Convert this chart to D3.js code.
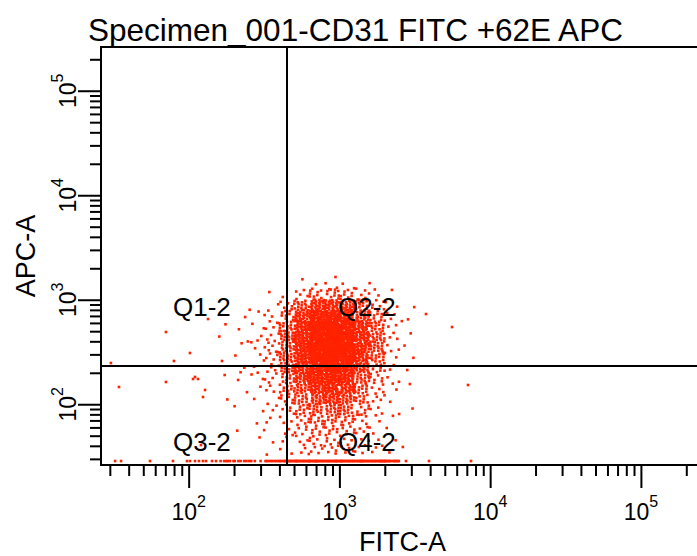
<!DOCTYPE html>
<html>
<head>
<meta charset="utf-8">
<script src="https://cdn.jsdelivr.net/npm/d3@7/dist/d3.min.js"></script>
<style>
  body { margin: 0; background: #fff; }
  svg { display: block; }
  text { font-family: "Liberation Sans", Arial, sans-serif; fill: #000; }
</style>
</head>
<body>
<div class="res"></div>
<script>
/**
 * DATA
 */
const title = 'Specimen_001-CD31 FITC +62E APC';
const xTitle = 'FITC-A';
const yTitle = 'APC-A';
// log display, 4 decades
const axisMin = 26.2144;
const axisMax = 262144;
const majorTicks = [100, 1000, 10000, 100000];
// quadrant gate
const gateFITC = 449;
const gateAPC = 232;
const quadNames = ['Q1-2', 'Q2-2', 'Q3-2', 'Q4-2'];

// event density: cells of 0.1 decade (log10 units)
const fitcEdges = [2.2, 2.3, 2.4, 2.5, 2.6, 2.7, 2.8, 2.9, 3.0, 3.1, 3.2, 3.3, 3.4, 3.5];
const apcEdges = [3.3, 3.2, 3.1, 3.0, 2.9, 2.8, 2.7, 2.6, 2.5, 2.4, 2.3, 2.2, 2.1, 2.0, 1.9, 1.8, 1.7, 1.6, 1.5];
const counts = [
    [0, 0, 0, 0, 0, 0, 0, 1, 0, 0, 0, 0, 0],
    [0, 0, 0, 0, 0, 1, 2, 3, 2, 1, 1, 0, 0],
    [0, 0, 0, 1, 1, 5, 9, 10, 8, 5, 2, 1, 0],
    [0, 0, 1, 1, 5, 16, 26, 28, 24, 14, 6, 2, 1],
    [0, 1, 1, 3, 9, 26, 42, 44, 36, 22, 9, 3, 1],
    [1, 1, 2, 4, 14, 34, 50, 52, 44, 30, 14, 3, 1],
    [1, 1, 2, 4, 16, 36, 54, 54, 48, 32, 16, 3, 1],
    [0, 1, 2, 5, 16, 36, 54, 54, 48, 32, 16, 3, 1],
    [1, 1, 2, 5, 16, 34, 50, 54, 48, 30, 14, 2, 1],
    [0, 2, 2, 5, 14, 30, 44, 48, 40, 24, 9, 2, 1],
    [1, 1, 2, 4, 12, 26, 38, 42, 36, 16, 7, 2, 0],
    [0, 1, 1, 3, 9, 19, 30, 34, 28, 14, 5, 2, 1],
    [1, 0, 1, 2, 7, 14, 21, 25, 20, 10, 4, 1, 0],
    [0, 1, 1, 2, 5, 10, 14, 16, 14, 8, 3, 1, 1],
    [0, 0, 1, 2, 3, 7, 10, 11, 9, 5, 2, 1, 0],
    [0, 1, 0, 1, 3, 5, 7, 8, 7, 4, 2, 1, 0],
    [0, 0, 1, 1, 2, 4, 6, 6, 5, 3, 2, 1, 0],
    [0, 0, 0, 1, 2, 3, 4, 5, 4, 3, 2, 1, 1]
];
// events piled up on the lower edge (APC off scale), per FITC cell
const pileCounts = [6, 5, 4, 8, 12, 14, 14, 14, 14, 14, 14, 12, 1];
const pileAPC = 28.6;
const pileFITC = [32.5, 35.6, 55.4, 78.7, 97.5, 102, 110.2, 117.1, 124.5, 130.3, 142.8, 151.9, 3929, 7464];
// sparse single events [FITC, APC]
const singles = [
    [30.5, 248.1], [34.5, 146.2], [70.7, 491], [79.9, 259.3], [102, 309.3],
    [70.7, 163.2], [106.9, 174.4], [110.2, 182.3], [115.3, 174.4], [128.4, 136.8],
    [124.5, 117.3], [120.7, 40.7], [134.4, 654], [3752, 730], [5583, 548], [7129, 152.8]
];

/**
 * SVG
 */
const W = 697, H = 556;
const plot = { left: 101, top: 47, right: 704, bottom: 465 };

const svg = d3.select('div.res')
    .append('svg')
    .attr('width', W)
    .attr('height', H);

const x = d3.scaleLog().domain([axisMin, axisMax]).range([plot.left, plot.right]);
const y = d3.scaleLog().domain([axisMin, axisMax]).range([plot.bottom, plot.top]);

// spread the events of each cell over the cell (low-discrepancy order)
const events = [];
counts.forEach((row, j) => {
    row.forEach((n, i) => {
        const seed = (j * 13 + i) * 29;
        for (let k = 0; k < n; k++) {
            const u = (0.5 + (k + seed) * 0.7548776662) % 1;
            const v = (0.5 + (k + seed) * 0.5698402910) % 1;
            const lx = fitcEdges[i] + u * (fitcEdges[i + 1] - fitcEdges[i]);
            const ly = apcEdges[j + 1] + v * (apcEdges[j] - apcEdges[j + 1]);
            events.push([Math.pow(10, lx), Math.pow(10, ly)]);
        }
    });
});
pileCounts.forEach((n, i) => {
    for (let k = 0; k < n; k++) {
        const u = (0.5 + (k + i * 7) * 0.6180339887) % 1;
        const lx = fitcEdges[i] + u * (fitcEdges[i + 1] - fitcEdges[i]);
        events.push([Math.pow(10, lx), pileAPC]);
    }
});
pileFITC.forEach(f => events.push([f, pileAPC]));
singles.forEach(d => events.push(d));

const dotSize = 2.6;
svg.append('g')
    .selectAll('rect')
    .data(events)
    .enter().append('rect')
    .attr('x', d => x(d[0]) - dotSize / 2)
    .attr('y', d => y(d[1]) - dotSize / 2)
    .attr('width', dotSize)
    .attr('height', dotSize)
    .attr('fill', '#ff2200');

// quadrant lines
svg.append('line')
    .attr('x1', Math.round(x(gateFITC))).attr('x2', Math.round(x(gateFITC)))
    .attr('y1', plot.top).attr('y2', plot.bottom)
    .attr('stroke', '#000').attr('stroke-width', 2);
svg.append('line')
    .attr('x1', plot.left).attr('x2', plot.right)
    .attr('y1', Math.round(y(gateAPC))).attr('y2', Math.round(y(gateAPC)))
    .attr('stroke', '#000').attr('stroke-width', 2);

// frame
svg.append('rect')
    .attr('x', plot.left).attr('y', plot.top)
    .attr('width', plot.right - plot.left)
    .attr('height', plot.bottom - plot.top)
    .attr('fill', 'none')
    .attr('stroke', '#000')
    .attr('stroke-width', 2);

/**
 * AXES
 */
const minorX = x.ticks().filter(t => !majorTicks.includes(t));
const minorY = y.ticks().filter(t => !majorTicks.includes(t));

function styleAxis(g) {
    g.select('.domain').remove();
    g.selectAll('line').attr('stroke', '#000').attr('stroke-width', 2);
}

svg.append('g')
    .attr('transform', `translate(0, ${plot.bottom})`)
    .call(d3.axisBottom(x).tickValues(minorX).tickSize(11).tickFormat(''))
    .call(styleAxis);
svg.append('g')
    .attr('transform', `translate(0, ${plot.bottom})`)
    .call(d3.axisBottom(x).tickValues(majorTicks).tickSize(23).tickFormat(''))
    .call(styleAxis);
svg.append('g')
    .attr('transform', `translate(${plot.left}, 0)`)
    .call(d3.axisLeft(y).tickValues(minorY).tickSize(11).tickFormat(''))
    .call(styleAxis);
svg.append('g')
    .attr('transform', `translate(${plot.left}, 0)`)
    .call(d3.axisLeft(y).tickValues(majorTicks).tickSize(23).tickFormat(''))
    .call(styleAxis);

function powerLabel(sel) {
    sel.attr('text-anchor', 'middle')
        .style('font-size', '23px');
    sel.append('tspan').text('10');
    sel.append('tspan')
        .attr('dy', -13)
        .style('font-size', '16px')
        .text(d => Math.round(Math.log10(d)));
}

svg.append('g')
    .selectAll('text')
    .data(majorTicks)
    .enter().append('text')
    .attr('x', d => x(d))
    .attr('y', 520)
    .call(powerLabel);

svg.append('g')
    .selectAll('text')
    .data(majorTicks)
    .enter().append('text')
    .attr('transform', d => `translate(76, ${y(d)}) rotate(-90)`)
    .call(powerLabel);

/**
 * LABELS
 */
svg.append('text')
    .attr('x', 88)
    .attr('y', 41)
    .style('font-size', '31.5px')
    .text(title);

svg.append('text')
    .attr('x', (plot.left + plot.right) / 2)
    .attr('y', 551)
    .attr('text-anchor', 'middle')
    .style('font-size', '27px')
    .text(xTitle);

svg.append('text')
    .attr('transform', `translate(35, ${(plot.top + plot.bottom) / 2}) rotate(-90)`)
    .attr('text-anchor', 'middle')
    .style('font-size', '27px')
    .text(yTitle);

// quadrant names
const qx = [x(gateFITC) - 114, x(gateFITC) + 51];
const qy = [y(gateAPC) - 50, plot.bottom - 14];
svg.append('g')
    .selectAll('text')
    .data(quadNames)
    .enter().append('text')
    .attr('x', (d, i) => qx[i % 2])
    .attr('y', (d, i) => qy[Math.floor(i / 2)])
    .style('font-size', '26px')
    .text(d => d);
</script>
</body>
</html>
